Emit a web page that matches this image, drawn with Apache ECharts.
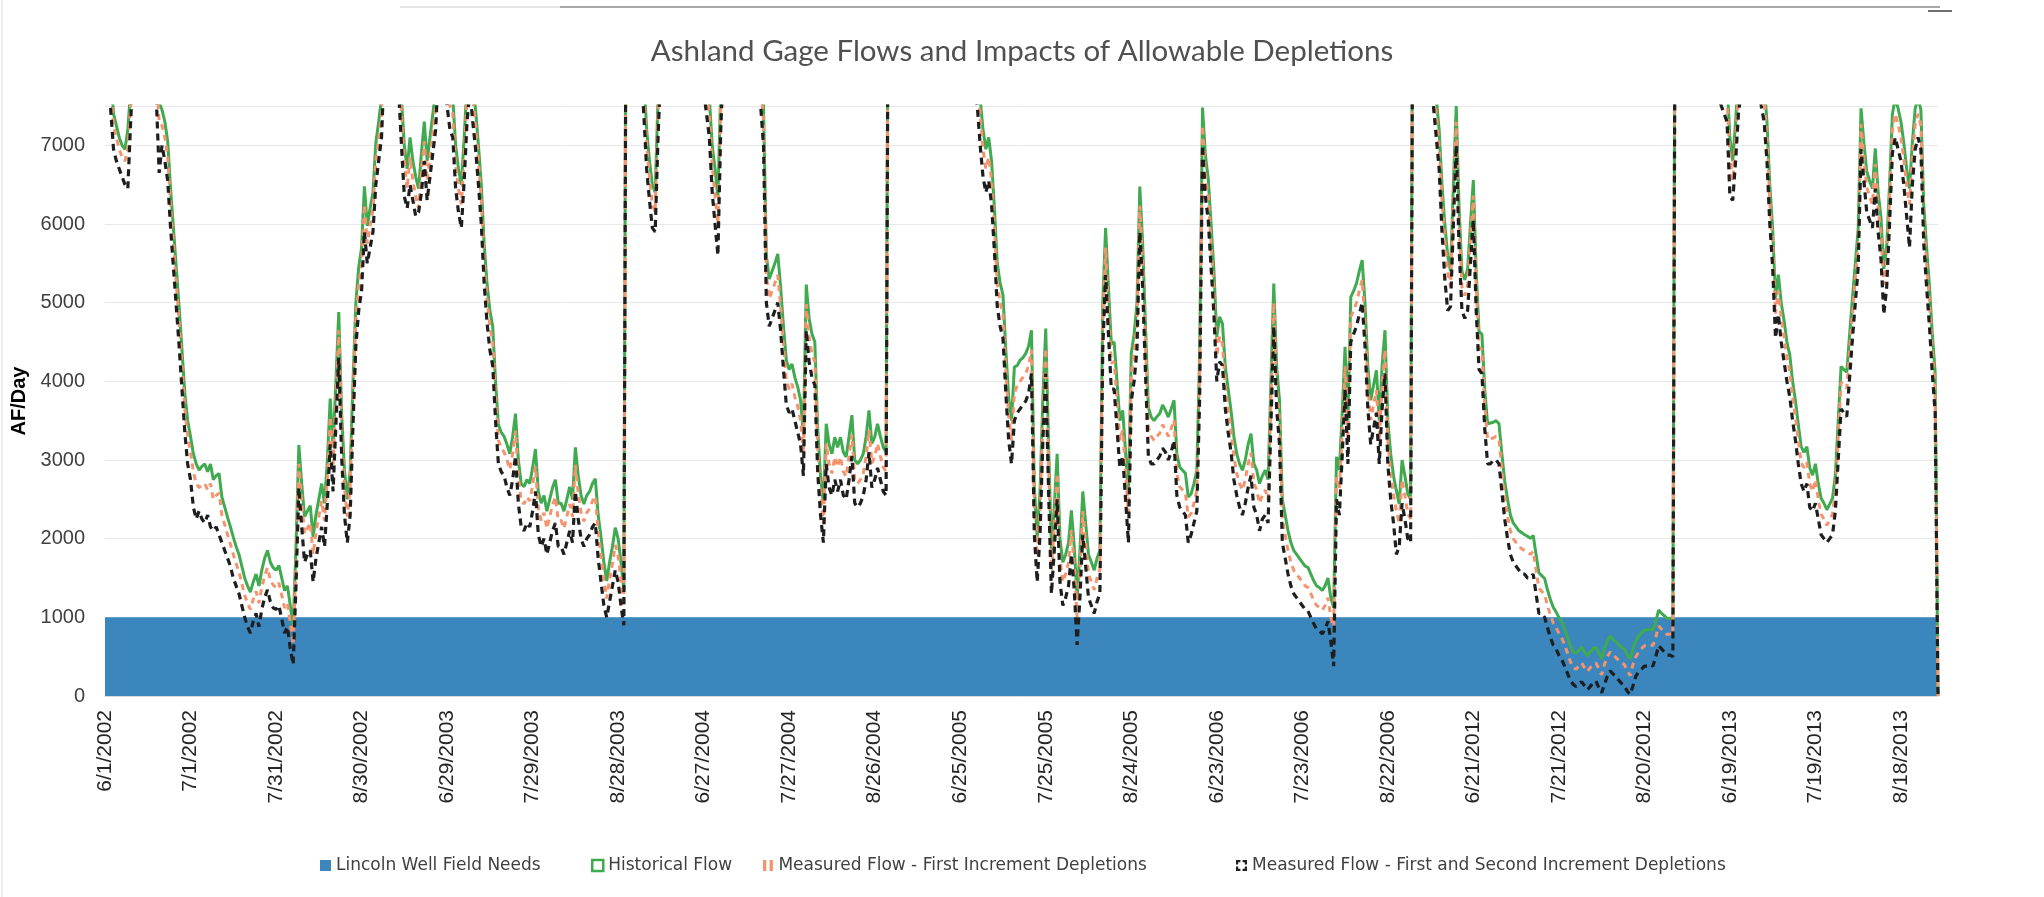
<!DOCTYPE html>
<html><head><meta charset="utf-8">
<script src="https://cdn.jsdelivr.net/npm/echarts@6/dist/echarts.min.js"></script>
<style>html,body{margin:0;padding:0;background:#fff;}#c{width:2044px;height:897px;}</style>
</head><body><div id="c"></div>
<script>
const years = [2002,2003,2004,2005,2006,2012,2013];
const needsByYear = [1000,1000,1000,1000,1000,1000,1000];

const hist2002 = [9500,8800,7900,7400,7250,7100,7000,6950,7200,7700,8500,9200,9800,10200,10500,10000,9400,8800,8100,7550,7450,7300,7050,6450,5950,5450,4950,4400,3850,3500,3300,3080,2950,2870,2920,2950,2850,2950,2750,2800,2830,2530,2400,2270,2150,2020,1900,1800,1650,1500,1400,1320,1450,1550,1400,1600,1750,1850,1700,1630,1600,1660,1500,1340,1400,1150,870,1900,3190,2700,2280,2350,2420,2020,2300,2500,2700,2450,3000,3780,3160,4000,4880,3600,2870,2500,2870,4000,5000,5450,5700,6480];
const first2002 = [9300,8600,7700,7250,7100,6950,6850,6800,6950,7500,8300,9000,9600,10000,10300,9800,9200,8600,7900,7300,7250,7100,6850,6250,5750,5250,4750,4200,3650,3300,3100,2850,2700,2650,2680,2700,2620,2700,2500,2550,2580,2300,2180,2050,1930,1800,1680,1580,1430,1280,1180,1100,1230,1330,1180,1380,1530,1630,1480,1410,1380,1440,1280,1120,1180,930,650,1650,2950,2480,2060,2130,2200,1800,2080,2280,2480,2230,2780,3550,2940,3780,4650,3380,2650,2280,2650,3780,4780,5230,5480,6250];
const second2002 = [9000,8300,7450,6950,6800,6700,6600,6500,6450,7300,8000,8700,9300,9700,10000,9500,8900,8300,7600,6650,7000,6800,6550,5950,5450,4950,4450,3900,3350,2950,2750,2400,2250,2350,2250,2200,2300,2150,2100,2150,2050,1950,1850,1750,1650,1500,1400,1300,1150,1000,880,800,950,1050,880,1100,1250,1350,1200,1120,1100,1150,980,800,880,600,400,1400,2650,2150,1700,1800,1850,1450,1750,1950,2150,1900,2450,3200,2600,3450,4300,3050,2300,1950,2300,3450,4450,4900,5150,5900];

const hist2003 = [5975,6200,6400,7030,7300,7600,8500,9200,9800,9500,8800,8200,7600,7000,6700,7100,6800,6600,6450,6900,7300,6800,7100,7400,7700,8500,9000,8600,8000,7700,7600,7000,6700,6500,7100,7800,8200,7800,7450,7000,6500,5750,5250,4900,4700,4000,3450,3350,3300,3200,3080,3300,3590,3000,2700,2660,2750,2700,2900,3140,2600,2450,2550,2350,2500,2650,2750,2450,2450,2350,2500,2660,2500,3160,2800,2550,2440,2550,2600,2700,2760,2300,2020,1700,1460,1700,1900,2140,2000,1700,1350,12000];
const first2003 = [5750,5980,6180,6800,7080,7380,8300,9000,9600,9300,8600,8000,7400,6800,6450,6850,6550,6350,6200,6650,7050,6550,6850,7150,7500,8300,8800,8400,7800,7500,7400,6750,6450,6250,6850,7600,8000,7600,7250,6800,6300,5550,5050,4700,4500,3800,3250,3150,3100,3000,2880,3080,3370,2780,2480,2440,2530,2480,2680,2920,2380,2230,2330,2130,2280,2430,2530,2230,2230,2130,2280,2440,2280,2940,2580,2330,2220,2330,2380,2480,2540,2080,1800,1480,1240,1480,1680,1920,1780,1480,1130,11800];
const second2003 = [5500,5700,5900,6500,6800,7100,8000,8700,9300,9000,8300,7700,7000,6350,6200,6500,6300,6100,6150,6400,6800,6300,6600,6900,7200,8000,8500,8100,7500,7200,7100,6450,6150,5950,6550,7300,7700,7300,6950,6500,6000,5250,4750,4400,4200,3500,2950,2850,2800,2650,2550,2750,3050,2450,2150,2100,2200,2150,2350,2600,2050,1900,2000,1800,1950,2100,2200,1900,1900,1800,1950,2100,1950,2600,2250,2000,1900,2000,2050,2150,2200,1750,1450,1150,1000,1200,1400,1600,1450,1150,900,11500];

const hist2004 = [11000,10500,9800,9200,8500,7900,7200,6800,6500,6400,7600,8500,9500,10500,11500,12000,12500,12000,11500,11000,10500,10000,9500,9000,8800,8500,8200,7900,7600,7000,6700,6350,7700,8600,9500,10500,11500,12000,11500,11000,10500,10000,9700,9400,9000,8500,8000,7500,5600,5300,5400,5500,5620,5200,4700,4270,4150,4220,4050,3930,3760,3330,5230,4800,4600,4500,3400,2800,2440,3460,3200,3080,3290,3160,3290,3100,3040,3300,3570,3000,2950,3000,3080,3300,3630,3210,3290,3460,3300,3160,3100,12000];
const first2004 = [10800,10300,9600,9000,8300,7700,7000,6600,6250,6150,7400,8300,9300,10300,11300,11800,12300,11800,11300,10800,10300,9800,9300,8800,8600,8300,8000,7700,7400,6750,6350,6000,7500,8400,9300,10300,11300,11800,11300,10800,10300,9800,9500,9200,8800,8300,7800,7300,5350,5050,5150,5250,5350,4950,4450,4020,3900,3970,3800,3680,3510,3080,4980,4550,4350,4250,3150,2550,2190,3210,2950,2830,3040,2910,3040,2850,2790,3050,3320,2750,2700,2750,2830,3050,3380,2960,3040,3210,3050,2910,2850,11800];
const second2004 = [10500,10000,9300,8700,8000,7400,6700,6300,5950,5900,7100,8000,9000,10000,11000,11500,12000,11500,11000,10500,10000,9500,9000,8500,8300,8000,7700,7400,7100,6400,6000,5600,7200,8100,9000,10000,11000,11500,11000,10500,10000,9500,9200,8900,8500,8000,7500,7000,5000,4700,4800,4900,5000,4650,4150,3700,3600,3650,3500,3350,3200,2800,4650,4250,4050,3950,2850,2300,1950,2950,2650,2550,2750,2600,2750,2550,2500,2750,3050,2450,2400,2450,2550,2750,3100,2650,2750,2900,2750,2600,2550,11500];

const hist2005 = [13000,12500,12000,11500,11000,10800,10500,10000,9800,9500,9500,9800,10000,10500,10200,9800,9500,9200,9000,8800,9000,9300,9500,9200,9000,8800,8600,8500,8300,8200,8000,7600,7200,6950,7100,6800,6200,5500,5250,5100,4400,3800,3500,4185,4200,4270,4300,4355,4450,4650,2660,2020,2600,3800,4670,3200,1850,2400,3080,2000,1700,1800,1950,2360,1900,1250,1850,2600,2200,1800,1700,1600,1750,1850,4990,5950,5200,4480,4500,4000,3500,3630,3100,2570,4355,4600,4990,6476,5754,4700,3670,3545];
const first2005 = [12800,12300,11800,11300,10800,10600,10300,9800,9600,9300,9300,9600,9800,10300,10000,9600,9300,9000,8800,8600,8800,9100,9300,9000,8800,8600,8400,8300,8100,8000,7800,7400,6950,6700,6850,6550,5950,5250,5000,4850,4150,3550,3250,3850,3950,4000,4050,4100,4200,4400,2400,1780,2350,3550,4420,2950,1600,2150,2830,1750,1450,1550,1700,2110,1650,1000,1600,2350,1950,1550,1450,1350,1500,1600,4740,5700,4950,4230,4250,3750,3250,3380,2850,2320,4100,4350,4740,6230,5500,4450,3420,3300];
const second2005 = [12500,12000,11500,11000,10500,10300,10000,9500,9300,9000,9000,9300,9500,10000,9700,9300,9000,8700,8500,8300,8500,8800,9000,8700,8500,8300,8100,8000,7800,7700,7500,7000,6600,6400,6550,6250,5650,4950,4700,4550,3850,3250,2950,3500,3600,3650,3700,3750,3850,4100,2050,1450,2050,3250,4100,2600,1300,1850,2500,1450,1150,1250,1400,1800,1350,650,1250,2050,1650,1250,1150,1050,1200,1300,4400,5350,4600,3900,3900,3400,2900,3050,2500,1950,3750,4000,4400,5900,5200,4100,3050,2950];

const hist2006 = [3500,3550,3590,3700,3630,3545,3650,3760,3080,2910,2870,2830,2530,2570,2700,2870,4355,7480,6880,6580,6000,5414,4565,4820,4730,4185,3900,3630,3300,3080,2950,2870,3000,3200,3335,2955,2870,2700,2800,2870,2750,4000,5244,4185,3760,2500,2300,2100,1950,1850,1800,1750,1700,1650,1635,1550,1465,1400,1380,1340,1400,1500,1250,1125,3040,2870,3600,4440,3500,5070,5150,5244,5400,5540,4990,4185,3760,3950,4140,3500,4200,4650,3500,3080,2800,2610,2440,3000,2800,2570,2500,12000];
const first2006 = [3250,3300,3340,3450,3380,3300,3400,3510,2830,2660,2620,2580,2280,2320,2450,2620,4100,7250,6650,6350,5750,5160,4320,4570,4480,3940,3650,3380,3050,2830,2700,2620,2750,2950,3090,2710,2620,2450,2550,2620,2500,3750,5000,3940,3510,2250,2050,1850,1700,1600,1550,1500,1450,1400,1380,1300,1220,1150,1130,1090,1150,1250,1000,880,2790,2620,3350,4190,3250,4820,4900,5000,5150,5290,4740,3940,3510,3700,3890,3250,3950,4400,3250,2830,2550,2360,2190,2750,2550,2320,2250,11800];
const second2006 = [2950,3000,3050,3150,3100,3000,3100,3250,2550,2400,2350,2300,1950,2050,2200,2350,3800,7000,6350,6050,5450,4850,4000,4250,4200,3650,3350,3100,2750,2550,2400,2300,2450,2650,2800,2400,2300,2100,2250,2300,2200,3450,4700,3650,3200,1950,1750,1550,1400,1300,1250,1200,1150,1100,1080,1000,920,850,830,790,850,950,700,380,2500,2300,3050,3900,2950,4500,4600,4700,4850,5000,4450,3650,3200,3400,3600,2950,3650,4100,2950,2500,2200,1800,1900,2450,2250,2000,1950,11500];

const hist2012 = [12000,11000,10000,9500,9000,8500,8000,7600,7200,6500,6000,5600,5400,6500,7500,6200,5400,5290,5430,6000,6560,5400,4630,4600,3900,3460,3470,3480,3500,3460,3080,2733,2500,2300,2200,2150,2100,2077,2050,2030,2004,2040,1800,1567,1530,1494,1350,1230,1130,1070,1000,947,850,750,640,560,546,580,619,560,510,560,600,619,550,473,600,700,765,720,692,650,619,600,520,473,600,700,765,800,838,838,850,838,950,1093,1050,1020,984,990,984,12000];
const first2012 = [11800,10800,9800,9300,8800,8300,7800,7400,7000,6300,5800,5400,5200,6300,7300,6000,5200,5090,5230,5800,6360,5200,4430,4400,3700,3260,3270,3280,3300,3260,2880,2530,2300,2100,2000,1950,1900,1870,1850,1830,1800,1840,1600,1370,1330,1290,1150,1030,930,870,800,740,650,550,440,360,340,380,420,360,310,360,400,420,350,270,400,500,560,520,490,450,420,400,320,260,400,500,560,600,640,640,650,640,750,890,850,820,780,790,780,11800];
const second2012 = [11500,10500,9500,9000,8500,8000,7500,7100,6700,5900,5300,4900,4950,6000,7000,5700,4900,4800,4900,5500,6050,4900,4150,4100,3400,2950,2950,3000,3000,2950,2600,2250,2000,1800,1700,1650,1600,1550,1550,1500,1500,1550,1300,1050,1050,1000,870,750,650,600,520,470,380,290,200,150,120,160,180,130,80,120,170,190,110,40,150,250,320,280,250,200,160,130,60,20,130,250,310,340,380,380,400,380,500,640,600,560,520,520,500,11500];

const hist2013 = [11500,11000,10500,10000,9800,9500,9300,9000,8800,8600,8500,8400,8300,8200,8100,8000,7900,7800,7100,6800,7300,7900,8200,8500,8800,9000,8800,8500,8300,8000,7800,7300,6500,5940,5064,5356,5000,4773,4500,4336,4000,3752,3450,3170,3097,3170,2900,2806,2952,2700,2514,2450,2368,2440,2514,2806,3500,4190,4150,4117,4600,5064,5500,5940,7470,7033,6668,6550,6450,6960,6400,6085,5429,5720,6500,7397,7600,7470,7300,7033,6700,6450,7033,7470,7600,7450,6241,5700,5210,4600,4117,0];
const first2013 = [11300,10800,10300,9800,9600,9300,9100,8800,8600,8400,8300,8200,8100,8000,7900,7800,7700,7600,6850,6550,7050,7700,8000,8300,8600,8800,8600,8300,8100,7800,7600,7100,6300,5740,4860,5150,4800,4570,4300,4130,3800,3550,3250,2970,2900,2970,2700,2600,2750,2500,2310,2250,2170,2240,2310,2600,3300,3990,3950,3910,4400,4860,5300,5740,7270,6830,6470,6350,6250,6760,6200,5880,5230,5520,6300,7200,7400,7270,7100,6830,6500,6250,6830,7270,7400,7250,6040,5500,5010,4400,3910,0];
const second2013 = [11000,10500,10000,9500,9300,9000,8800,8500,8300,8100,8000,7900,7800,7700,7600,7500,7400,7300,6350,6300,6800,7400,7700,8000,8300,8500,8300,8000,7800,7500,7300,6800,6000,5450,4550,4850,4500,4250,4000,3800,3500,3250,2950,2700,2600,2700,2400,2350,2450,2250,2050,2000,1950,2000,2050,2350,3000,3650,3600,3550,4050,4550,5000,5450,6950,6550,6150,6050,5950,6450,5900,5550,4850,5200,6000,6900,7100,6950,6800,6500,6100,5700,6500,6950,7100,6950,5750,5200,4700,4100,3600,0];

const yTickLabels = ['0','1000','2000','3000','4000','5000','6000','7000'];

const historical = [].concat(hist2002, hist2003, hist2004, hist2005, hist2006, hist2012, hist2013);
const firstInc = [].concat(first2002, first2003, first2004, first2005, first2006, first2012, first2013);
const secondInc = [].concat(second2002, second2003, second2004, second2005, second2006, second2012, second2013);

const categories = [];
const needs = [];
years.forEach((y, k) => {
  [[6,30],[7,31],[8,31]].forEach(([m, nd]) => {
    for (let d = 1; d <= nd; d++) { categories.push(m + '/' + d + '/' + y); needs.push(needsByYear[k]); }
  });
});

const names = ['Lincoln Well Field Needs','Historical Flow','Measured Flow - First Increment Depletions','Measured Flow - First and Second Increment Depletions'];
const BLUE = '#3b87bd', GREEN = '#3faa4f', ORANGE = '#f4946e', BLACK = '#1e1e1e';

const legendText = {fontSize: 17, fontFamily: 'DejaVu Sans', color: '#404040'};
const mkLegend = (name, left, icon, itemStyle) => ({
  left: left, top: 852, itemWidth: 11, itemHeight: 11, itemGap: 0,
  textStyle: legendText, selectedMode: false,
  data: [{name: name, icon: icon, itemStyle: itemStyle}]
});

const chart = echarts.init(document.getElementById('c'), null, {renderer: 'canvas'});
chart.setOption({
  animation: false,
  backgroundColor: '#ffffff',
  title: {
    text: 'Ashland Gage Flows and Impacts of Allowable Depletions',
    left: 'center', top: 31,
    textStyle: {fontFamily: 'Lato', fontWeight: 'normal', fontSize: 29.5, color: '#505050'}
  },
  graphic: [
    {type: 'line', shape: {x1: 400, y1: 7, x2: 560, y2: 7}, style: {stroke: '#dedede', lineWidth: 1.5}, silent: true},
    {type: 'line', shape: {x1: 560, y1: 7, x2: 1940, y2: 7}, style: {stroke: '#8a8a8a', lineWidth: 1.5}, silent: true},
    {type: 'line', shape: {x1: 1928, y1: 11, x2: 1952, y2: 11}, style: {stroke: '#707070', lineWidth: 2}, silent: true},
    {type: 'line', shape: {x1: 2, y1: 0, x2: 2, y2: 897}, style: {stroke: '#e6e6e6', lineWidth: 1.5}, silent: true}
  ],
  legend: [
    mkLegend(names[0], 315, 'rect', {color: BLUE}),
    mkLegend(names[1], 586, 'rect', {color: '#ffffff', borderColor: GREEN, borderWidth: 2.5}),
    mkLegend(names[2], 758, 'path://M0,0H3V10H0Z M6,0H9V10H6Z', {color: ORANGE}),
    mkLegend(names[3], 1231, 'path://M0,0H4V2H2V4H0Z M6,0H10V4H8V2H6Z M0,6H2V8H4V10H0Z M8,6H10V10H6V8H8Z', {color: BLACK})
  ],
  grid: {left: 105, right: 106, top: 106, bottom: 201, containLabel: false},
  xAxis: {
    type: 'category', data: categories, boundaryGap: false,
    axisLine: {lineStyle: {color: '#d9d9d9', width: 1}},
    axisTick: {show: false},
    axisLabel: {interval: 29, rotate: 90, fontSize: 21, color: '#262626', margin: 14, fontFamily: 'Liberation Sans'},
    splitLine: {show: false}
  },
  yAxis: {
    type: 'value', min: 0, max: 7500, interval: 1000,
    name: 'AF/Day', nameLocation: 'middle', nameGap: 66,
    nameTextStyle: {fontSize: 20, fontWeight: 'bold', color: '#000', fontFamily: 'Liberation Sans'},
    axisLine: {show: false}, axisTick: {show: false},
    axisLabel: {fontSize: 20, color: '#404040', margin: 20, fontFamily: 'Liberation Sans', showMaxLabel: false,
      formatter: v => yTickLabels[v / 1000] || ''},
    splitLine: {lineStyle: {color: '#e8e8e8', width: 1}}
  },
  series: [
    {name: names[0], type: 'line', data: needs, showSymbol: false, color: BLUE,
      lineStyle: {width: 0}, areaStyle: {color: BLUE, opacity: 1}, z: 1},
    {name: names[1], type: 'line', data: historical, showSymbol: false, color: GREEN,
      lineStyle: {width: 3, color: GREEN}, z: 2},
    {name: names[2], type: 'line', data: firstInc, showSymbol: false, color: ORANGE,
      lineStyle: {width: 3, color: ORANGE, type: [6, 5]}, z: 3},
    {name: names[3], type: 'line', data: secondInc, showSymbol: false, color: BLACK,
      lineStyle: {width: 3.2, color: BLACK, type: [7, 5]}, z: 4}
  ]
});
</script></body></html>
